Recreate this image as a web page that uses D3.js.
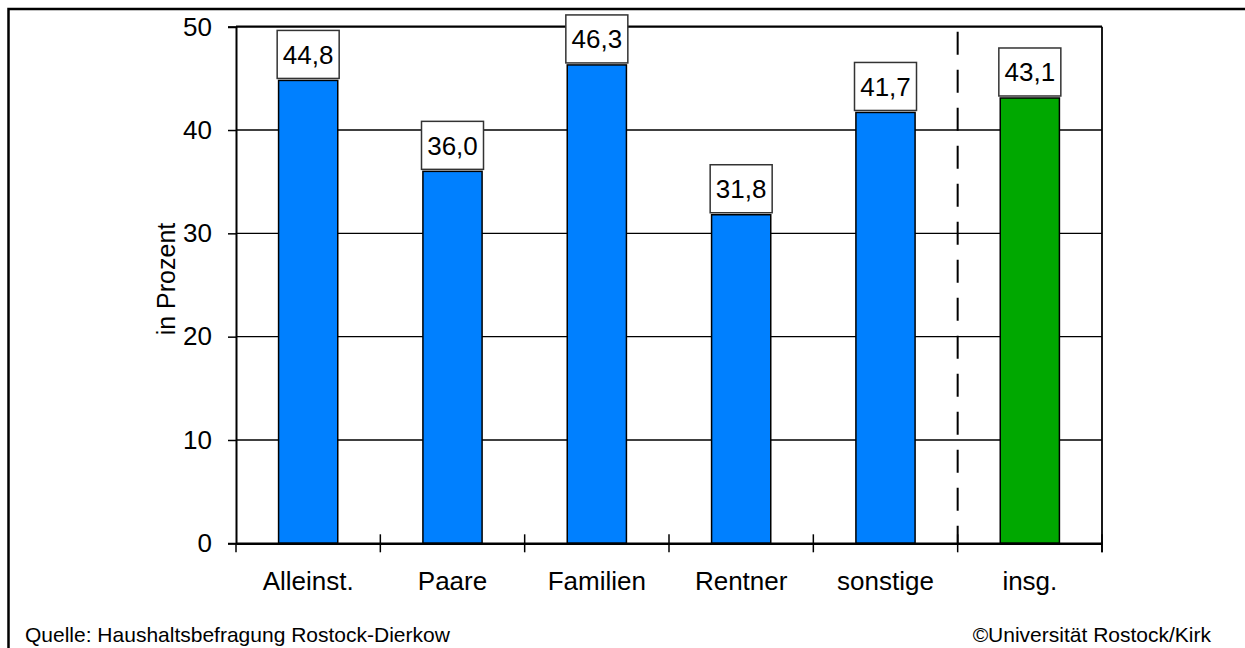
<!DOCTYPE html>
<html>
<head>
<meta charset="utf-8">
<script src="https://cdn.jsdelivr.net/npm/d3@7"></script>
<style>
  body { margin: 0; background: #fff; }
  text { font-family: "Liberation Sans", Arial, sans-serif; fill: #000; }
</style>
</head>
<body>
<script>
const width = 1245;
const height = 648;
const marginTop = 26.7;
const marginRight = 143;
const marginBottom = 104.7;
const marginLeft = 236;

const categories = ["Alleinst.", "Paare", "Familien", "Rentner", "sonstige", "insg."];
const values = [44.8, 36.0, 46.3, 31.8, 41.7, 43.1];
const barColors = ["#0080ff", "#0080ff", "#0080ff", "#0080ff", "#0080ff", "#00a800"];
const yTicks = [0, 10, 20, 30, 40, 50];

const de = d3.formatLocale({decimal: ",", thousands: ".", grouping: [3], currency: ["", " €"]});
const fmt = de.format(".1f");

const svg = d3.select("body").append("svg")
  .attr("width", width)
  .attr("height", height);

// outer frame (runs off the right and bottom edge)
svg.append("rect")
  .attr("x", 8.5).attr("y", 9)
  .attr("width", 1400).attr("height", 800)
  .attr("fill", "none")
  .attr("stroke", "#000")
  .attr("stroke-width", 2.5);

const x = d3.scaleBand()
  .domain(categories)
  .range([marginLeft, width - marginRight])
  .padding(0);

const y = d3.scaleLinear()
  .domain([0, 50])
  .range([height - marginBottom, marginTop]);

// grid lines
svg.append("g")
  .selectAll("line")
  .data(yTicks.filter(d => d > 0 && d < 50))
  .join("line")
    .attr("x1", marginLeft).attr("x2", width - marginRight)
    .attr("y1", d => y(d)).attr("y2", d => y(d))
    .attr("stroke", "#000").attr("stroke-width", 1.4);

// dashed separator before "insg."
svg.append("line")
  .attr("x1", x("insg.")).attr("x2", x("insg."))
  .attr("y1", y(50) + 5).attr("y2", y(0))
  .attr("stroke", "#000").attr("stroke-width", 2)
  .attr("stroke-dasharray", "23,15");

// plot frame top / right
svg.append("line")
  .attr("x1", marginLeft).attr("x2", width - marginRight)
  .attr("y1", y(50)).attr("y2", y(50))
  .attr("stroke", "#000").attr("stroke-width", 2.2);
svg.append("line")
  .attr("x1", width - marginRight).attr("x2", width - marginRight)
  .attr("y1", y(50)).attr("y2", y(0) + 9)
  .attr("stroke", "#000").attr("stroke-width", 1.8);

// bars
const barW = x.bandwidth() * 0.41;
svg.append("g")
  .selectAll("rect")
  .data(values)
  .join("rect")
    .attr("x", (d, i) => x(categories[i]) + (x.bandwidth() - barW) / 2)
    .attr("y", d => y(d))
    .attr("width", barW)
    .attr("height", d => y(0) - y(d))
    .attr("fill", (d, i) => barColors[i])
    .attr("stroke", "#000")
    .attr("stroke-width", 1.5);

// value labels in boxes
const boxW = 62, boxH = 48;
const lab = svg.append("g")
  .selectAll("g")
  .data(values)
  .join("g")
    .attr("transform", (d, i) => `translate(${x(categories[i]) + x.bandwidth() / 2},${y(d) - 2 - boxH / 2})`);
lab.append("rect")
  .attr("x", -boxW / 2).attr("y", -boxH / 2)
  .attr("width", boxW).attr("height", boxH)
  .attr("fill", "#fff")
  .attr("stroke", "#333")
  .attr("stroke-width", 1.5);
lab.append("text")
  .attr("text-anchor", "middle")
  .attr("dy", "0.36em")
  .style("font-size", "26px")
  .text(d => fmt(d));

// y axis
const yAxis = svg.append("g")
  .attr("transform", `translate(${marginLeft},0)`)
  .call(d3.axisLeft(y).tickValues(yTicks).tickSize(8).tickPadding(16).tickFormat(d3.format("d")));
yAxis.select(".domain").attr("stroke-width", 2);
yAxis.selectAll(".tick line").attr("stroke-width", 1.5);
yAxis.selectAll("text")
  .style("font-size", "26px")
  .style("font-family", "'Liberation Sans', Arial, sans-serif");

// x axis
const xAxis = svg.append("g")
  .attr("transform", `translate(0,${y(0)})`)
  .call(d3.axisBottom(x).tickSize(0).tickPadding(28));
xAxis.select(".domain").attr("stroke-width", 2.5);
xAxis.selectAll("text")
  .style("font-size", "26px")
  .style("font-family", "'Liberation Sans', Arial, sans-serif");

// category boundary ticks
const bounds = categories.map(c => x(c)).concat([x(categories[categories.length - 1]) + x.bandwidth()]);
svg.append("g")
  .selectAll("line")
  .data(bounds)
  .join("line")
    .attr("x1", d => d).attr("x2", d => d)
    .attr("y1", (d, i) => i === 0 ? y(0) : y(0) - 9)
    .attr("y2", y(0) + 9)
    .attr("stroke", "#000").attr("stroke-width", 1.5);

// y axis title
svg.append("text")
  .attr("transform", `translate(175,279) rotate(-90)`)
  .attr("text-anchor", "middle")
  .style("font-size", "25px")
  .text("in Prozent");

// footer
svg.append("text")
  .attr("x", 25).attr("y", 642)
  .style("font-size", "21px")
  .text("Quelle: Haushaltsbefragung Rostock-Dierkow");
svg.append("text")
  .attr("x", 1211).attr("y", 642)
  .attr("text-anchor", "end")
  .style("font-size", "21px")
  .text("©Universität Rostock/Kirk");
</script>
</body>
</html>
